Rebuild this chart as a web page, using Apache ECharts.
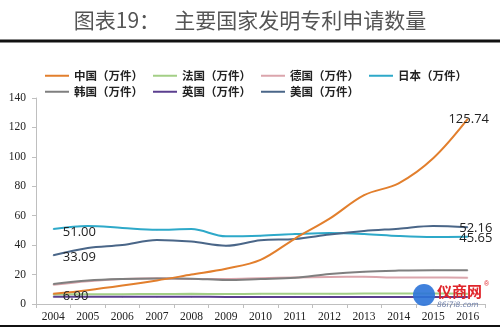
<!DOCTYPE html>
<html><head><meta charset="utf-8">
<script src="https://cdn.jsdelivr.net/npm/echarts@6/dist/echarts.min.js"></script>
<style>html,body{margin:0;padding:0;background:#fff}#c{width:500px;height:327px}</style>
</head><body><div id="c"></div>
<script>
var years = ['2004','2005','2006','2007','2008','2009','2010','2011','2012','2013','2014','2015','2016'];
var china   = [6.90, 9.4, 12.5, 16.0, 20.0, 24.0, 30.0, 44.5, 58.0, 74.0, 82.0, 99.0, 125.74];
var france  = [6.5, 6.6, 6.7, 6.8, 6.9, 6.8, 6.9, 7.0, 7.0, 7.1, 7.2, 7.2, 7.0];
var germany = [13.0, 15.5, 17.0, 17.5, 17.0, 17.0, 17.5, 18.0, 18.4, 18.5, 18.0, 18.0, 17.8];
var japan   = [51.00, 53.0, 51.7, 50.5, 50.9, 46.0, 46.4, 47.5, 48.3, 47.6, 46.2, 45.5, 45.65];
var korea   = [13.6, 16.0, 17.0, 17.3, 17.2, 16.3, 17.0, 17.8, 20.4, 22.0, 22.7, 23.0, 23.0];
var uk      = [5.0, 5.0, 5.0, 5.0, 5.0, 4.8, 4.8, 4.8, 4.8, 4.8, 4.8, 4.8, 4.8];
var usa     = [33.09, 38.1, 40.1, 43.5, 42.4, 39.6, 43.3, 44.2, 47.2, 49.6, 51.2, 53.0, 52.16];
var yTicks  = [0, 20, 40, 60, 80, 100, 120, 140];
var names = ['中国（万件）','法国（万件）','德国（万件）','日本（万件）','韩国（万件）','英国（万件）','美国（万件）'];
var colors = ['#E27F2D','#A3CF86','#DBA5AC','#2EA9C9','#7F7F7F','#5B3F8F','#4A6688'];

var chart = echarts.init(document.getElementById('c'), null, {renderer:'canvas'});
var lblFont = {fontFamily:'"Liberation Sans Narrow", "Open Sans", sans-serif', fontSize:13, color:'#222'};
function labeled(arr, marks){
  return arr.map(function(v,i){
    if (marks[i]) return {value:v, label:Object.assign({show:true, formatter:function(p){return Number(p.value).toFixed(2);}}, lblFont, marks[i])};
    return v;
  });
}
function mk(idx, data, z){
  return {name:names[idx], type:'line', data:data, smooth:0.35, showSymbol:true, showAllSymbol:true,
    symbol:'circle', symbolSize:1, z:z||2,
    lineStyle:{color:colors[idx], width:2}, itemStyle:{color:colors[idx]}, emphasis:{disabled:true}};
}
var legText = {fontFamily:'"Noto Sans CJK SC", sans-serif', fontWeight:'bold', fontSize:11.5, color:'#222'};
chart.setOption({
  animation:false,
  backgroundColor:'#fff',
  title:{text:'图表19：   主要国家发明专利申请数量', left:'center', top:5,
    textStyle:{fontFamily:'"Noto Sans CJK SC", sans-serif', fontWeight:'normal', fontSize:21, color:'#555'}},
  legend:[
    {data:names.slice(0,4), left:40, top:65, itemWidth:24, itemHeight:2, icon:'rect', itemGap:10, textStyle:legText, selectedMode:false},
    {data:names.slice(4), left:40, top:81, itemWidth:24, itemHeight:2, icon:'rect', itemGap:10, textStyle:legText, selectedMode:false}
  ],
  grid:{left:36, right:15, top:98, bottom:23, containLabel:false},
  xAxis:{type:'category', data:years, boundaryGap:true,
    axisLine:{lineStyle:{color:'#BFBFBF', width:1}},
    axisTick:{show:true, alignWithLabel:false, length:4, lineStyle:{color:'#BFBFBF'}},
    axisLabel:{fontFamily:'"Liberation Serif", serif', fontSize:11.5, color:'#222', margin:7},
    splitLine:{show:false}},
  yAxis:{type:'value', min:0, max:140, interval:20,
    axisLine:{show:true, lineStyle:{color:'#BFBFBF'}},
    axisTick:{show:true, length:4, lineStyle:{color:'#BFBFBF'}},
    axisLabel:{fontFamily:'"Liberation Serif", serif', fontSize:11.5, color:'#222', margin:10,
      formatter:function(v){return yTicks.indexOf(v)>=0 ? String(v) : '';}},
    splitLine:{show:false}},
  series:[
    mk(0, labeled(china, {0:{position:'right', offset:[4,2]}, 12:{position:'top', offset:[1,12]}}), 5),
    mk(1, france),
    mk(2, germany),
    mk(3, labeled(japan, {0:{position:'right', offset:[4,3]}, 12:{position:'right', offset:[-14,1]}}), 4),
    mk(4, korea, 3),
    mk(5, uk, 3),
    mk(6, labeled(usa, {0:{position:'right', offset:[4,2]}, 12:{position:'right', offset:[-14,1]}}), 4)
  ],
  graphic:[
    {type:'rect', shape:{x:0, y:39.5, width:500, height:3}, style:{fill:'#111'}},
    {type:'rect', shape:{x:0, y:325, width:500, height:2}, style:{fill:'#111'}},
    {type:'circle', shape:{cx:424, cy:295, r:11}, style:{fill:'#2B73D8', opacity:0.9}, z:10},
    {type:'text', style:{x:437, y:284, text:'仪商网', fontFamily:'"Noto Sans CJK SC", sans-serif', fontWeight:'bold', fontSize:15, fill:'#E0242A'}, z:10},
    {type:'text', style:{x:484, y:281, text:'®', fontSize:7, fill:'#E0242A'}, z:10},
    {type:'text', style:{x:437, y:301, text:'86i7i8.com', fontFamily:'"DejaVu Sans", sans-serif', fontStyle:'italic', fontSize:7.5, fill:'#6E7FA8'}, z:10}
  ]
});
</script></body></html>
